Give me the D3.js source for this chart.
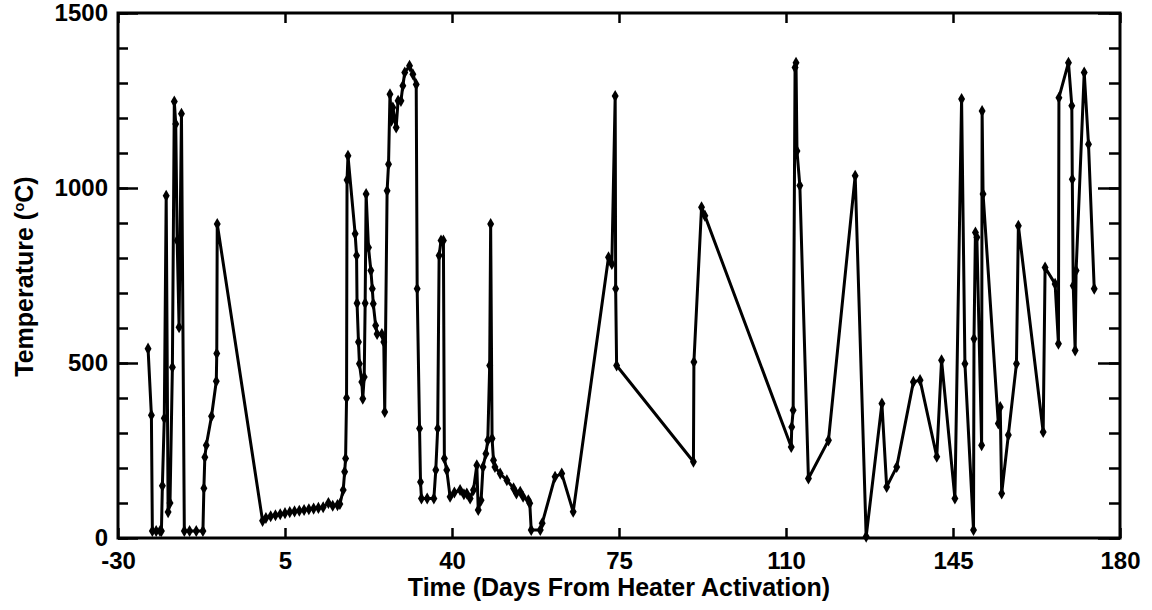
<!DOCTYPE html>
<html>
<head>
<meta charset="utf-8">
<script src="https://cdn.jsdelivr.net/npm/d3@7"></script>
<style>
  body { margin: 0; background: #fff; }
  text { font-family: "Liberation Sans", Arial, sans-serif; font-weight: bold; fill: #000; }
</style>
</head>
<body>
<script>
// data: time (days from heater activation) and temperature
var days = [-23.7, -23.0, -22.8, -22.0, -21.2, -20.9, -20.7, -20.3, -19.9, -19.5,
  -19.1, -18.6, -18.2, -17.9, -17.6, -17.2, -16.7, -16.1, -15.0, -13.6,
  -12.2, -12.0, -11.8, -11.5, -10.4, -9.4, -9.3, -9.2, 0.3, 1.0,
  2.0, 3.0, 4.0, 5.0, 6.0, 7.0, 8.0, 9.0, 10.0, 11.0,
  12.0, 13.0, 14.1, 15.0, 16.0, 16.5, 17.2, 17.5, 17.7, 17.9,
  18.0, 18.2, 19.7, 20.0, 20.1, 20.4, 20.6, 21.1, 21.3, 21.6,
  21.8, 22.0, 22.5, 23.0, 23.3, 23.5, 24.0, 24.3, 25.3, 25.7,
  25.9, 26.4, 26.7, 27.0, 27.3, 27.6, 28.3, 28.7, 29.3, 29.7,
  30.1, 31.1, 31.8, 32.5, 32.7, 33.2, 33.4, 33.6, 34.8, 36.2,
  36.6, 37.0, 37.3, 37.7, 38.2, 38.4, 38.9, 39.6, 40.5, 41.7,
  42.5, 43.1, 43.8, 44.5, 45.2, 45.5, 46.1, 46.5, 47.1, 47.5,
  47.9, 48.1, 48.4, 48.7, 49.0, 50.1, 51.5, 52.9, 53.5, 54.3,
  54.9, 56.0, 56.3, 56.6, 58.5, 58.9, 61.6, 63.0, 65.4, 72.8,
  73.5, 74.2, 74.3, 74.5, 90.6, 90.7, 92.3, 93.0, 111.1, 111.2,
  111.5, 111.9, 112.1, 112.3, 112.9, 114.7, 118.9, 124.5, 126.8, 130.1,
  131.1, 133.2, 136.7, 138.1, 141.6, 142.6, 145.4, 146.8, 147.5, 149.3,
  149.4, 149.7, 150.0, 151.0, 151.1, 151.3, 154.5, 154.9, 155.2, 156.6,
  158.3, 158.7, 163.9, 164.3, 166.4, 167.1, 167.2, 169.2, 169.9, 170.0,
  170.2, 170.6, 170.8, 172.5, 173.4, 174.6];
var temps = [541, 351, 20, 20, 20, 20, 149, 342, 978, 74,
  100, 488, 1247, 1183, 850, 602, 1212, 20, 20, 20,
  20, 142, 231, 265, 348, 448, 527, 897, 49, 57,
  62, 65, 68, 71, 74, 76, 78, 80, 82, 84,
  86, 88, 100, 92, 94, 97, 137, 189, 227, 400,
  1023, 1092, 869, 807, 671, 560, 498, 446, 398, 460,
  671, 983, 830, 764, 712, 669, 607, 583, 583, 560,
  360, 992, 1068, 1268, 1192, 1230, 1173, 1249, 1249, 1292,
  1330, 1349, 1325, 1296, 712, 313, 160, 113, 113, 113,
  194, 313, 807, 850, 850, 227, 194, 118, 130, 137,
  125, 127, 113, 137, 208, 80, 108, 203, 241, 279,
  493, 897, 284, 222, 203, 184, 165, 142, 127, 132,
  118, 108, 99, 23, 23, 42, 175, 184, 75, 802,
  783, 1263, 712, 493, 218, 503, 945, 921, 260, 317,
  365, 1344, 1358, 1106, 1007, 170, 279, 1035, 4, 384,
  146, 203, 446, 451, 232, 508, 113, 1254, 498, 23,
  569, 873, 859, 265, 1220, 983, 327, 374, 127, 294,
  498, 892, 303, 773, 726, 555, 1258, 1358, 1235, 1025,
  721, 536, 764, 1330, 1125, 712];

var xTicks = [-30, 5, 40, 75, 110, 145, 180];
var yTicks = [0, 500, 1000, 1500];
var yMinor = d3.range(0, 1501, 100);

var margin = {top: 13, right: 32, bottom: 72, left: 118},
    width = 1152 - margin.left - margin.right,
    height = 610 - margin.top - margin.bottom;

var x = d3.scaleLinear().domain([-30, 180]).range([0, width]);
var y = d3.scaleLinear().domain([0, 1500]).range([height, 0]);

var svg = d3.select("body").append("svg")
    .attr("width", 1152)
    .attr("height", 610)
  .append("g")
    .attr("transform", "translate(" + margin.left + "," + margin.top + ")");

var data = days.map(function(d, i) { return {day: d, temp: temps[i]}; });

// minor + major ticks, pointing inwards on all four sides
svg.append("g").attr("transform", "translate(0," + height + ")")
    .call(d3.axisBottom(x).tickValues(xTicks).tickSize(-10).tickPadding(14)
      .tickFormat(function(d) { return String(d); }));
svg.append("g")
    .call(d3.axisTop(x).tickValues(xTicks).tickSize(-10).tickFormat(""));
svg.append("g")
    .call(d3.axisLeft(y).tickValues(yMinor).tickSize(-10).tickFormat(""));
svg.append("g")
    .call(d3.axisLeft(y).tickValues(yTicks).tickSize(-20).tickPadding(10).tickFormat(d3.format("d")));
svg.append("g").attr("transform", "translate(" + width + ",0)")
    .call(d3.axisRight(y).tickValues(yMinor).tickSize(-11).tickFormat(""));
svg.append("g").attr("transform", "translate(" + width + ",0)")
    .call(d3.axisRight(y).tickValues(yTicks).tickSize(-22).tickFormat(""));

svg.selectAll(".domain").remove();
svg.selectAll(".tick line").attr("stroke", "#000").attr("stroke-width", 2.5);
svg.selectAll(".tick text").style("font-size", "24px");

svg.append("rect")
    .attr("width", width)
    .attr("height", height)
    .attr("fill", "none")
    .attr("stroke", "#000")
    .attr("stroke-width", 3);

var line = d3.line()
    .x(function(d) { return x(d.day); })
    .y(function(d) { return y(d.temp); });

svg.append("path")
    .datum(data)
    .attr("fill", "none")
    .attr("stroke", "#000")
    .attr("stroke-width", 3)
    .attr("stroke-linejoin", "round")
    .attr("d", line);

svg.selectAll(".pt")
    .data(data)
    .enter().append("path")
    .attr("class", "pt")
    .attr("transform", function(d) { return "translate(" + x(d.day) + "," + y(d.temp) + ")"; })
    .attr("d", d3.symbol().type(d3.symbolDiamond).size(42))
    .attr("fill", "#000");

// axis titles
svg.append("text")
    .attr("x", width / 2)
    .attr("y", height + 58)
    .attr("text-anchor", "middle")
    .style("font-size", "25px")
    .text("Time (Days From Heater Activation)");

var yt = svg.append("text")
    .attr("transform", "translate(" + (-85) + "," + (height / 2 + 1) + ") rotate(-90)")
    .attr("text-anchor", "middle")
    .style("font-size", "25px");
yt.append("tspan").text("Temperature (");
yt.append("tspan").attr("dy", -9).style("font-size", "15px").text("o");
yt.append("tspan").attr("dy", 9).text("C)");
</script>
</body>
</html>
